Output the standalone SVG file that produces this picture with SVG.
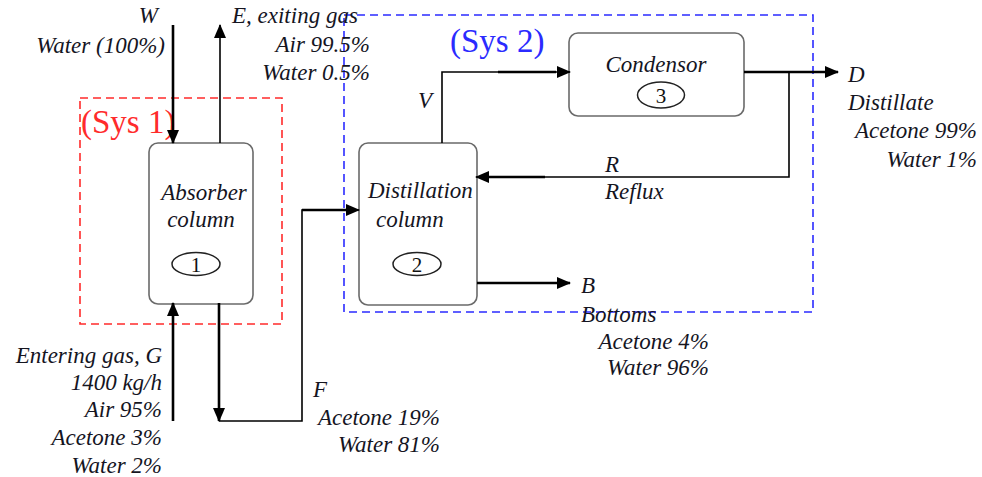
<svg xmlns="http://www.w3.org/2000/svg" width="982" height="477" viewBox="0 0 982 477">
<style>
.t{font-family:'Liberation Serif','DejaVu Serif',serif;font-style:italic;font-size:23px;fill:#15151f}
.e{text-anchor:end}
.m{text-anchor:middle}
.num{font-family:'Liberation Serif','DejaVu Serif',serif;font-size:21px;fill:#111;text-anchor:middle}
.box{fill:#fff;stroke:#6a6a6a;stroke-width:1.6}
.ell{fill:none;stroke:#222;stroke-width:1.5}
.ln{fill:none;stroke:#000;stroke-width:1.6}
.thk{fill:none;stroke:#000;stroke-width:2.6}
.sys{fill:none;stroke-width:1.6;stroke-dasharray:8 5}
.sysl{font-family:'Liberation Serif','DejaVu Serif',serif;font-size:33px}
</style>
<defs>
<marker id="ah" markerWidth="14" markerHeight="12" refX="13" refY="6" orient="auto" markerUnits="userSpaceOnUse">
<path d="M0,0 L14,6 L0,12 z" fill="#000"/>
</marker>
</defs>

<g id="sys1">
<rect class="sys" x="80" y="98" width="202" height="226" stroke="#ff2b2b"/>
<text class="sysl" x="81" y="133" fill="#ff2b2b" font-family="Liberation Serif, serif">(Sys 1)</text>
</g>
<g id="sys2">
<rect class="sys" x="344" y="15" width="469" height="297" stroke="#2b2bff"/>
<text class="sysl" x="450" y="52" fill="#2b2bff" font-family="Liberation Serif, serif">(Sys 2)</text>
</g>

<g id="absorber">
<rect class="box" x="149" y="143" width="104" height="161" rx="9"/>
<text class="t m" x="204" y="200">Absorber</text>
<text class="t m" x="201" y="227">column</text>
<ellipse class="ell" cx="196" cy="264" rx="24" ry="11.5"/>
<text class="num" x="196" y="272">1</text>
</g>

<g id="distillation">
<rect class="box" x="359" y="143" width="118" height="162" rx="9"/>
<text class="t" x="368" y="198">Distillation</text>
<text class="t" x="376" y="227">column</text>
<ellipse class="ell" cx="417" cy="264" rx="24" ry="11.5"/>
<text class="num" x="417" y="272">2</text>
</g>

<g id="condensor">
<rect class="box" x="569" y="33" width="175" height="83" rx="9"/>
<text class="t m" x="656" y="72">Condensor</text>
<ellipse class="ell" cx="661" cy="95" rx="23.5" ry="13"/>
<text class="num" x="661" y="103">3</text>
</g>

<g id="connectors">
<line class="thk" x1="173" y1="25" x2="173" y2="143" marker-end="url(#ah)"/>
<line class="ln" x1="220" y1="143" x2="220" y2="25" stroke-width="2" marker-end="url(#ah)"/>
<line class="thk" x1="173" y1="421" x2="173" y2="303" marker-end="url(#ah)"/>
<line class="thk" x1="219" y1="303" x2="219" y2="421" marker-end="url(#ah)"/>
<polyline class="ln" points="219,421 302,421 302,210 359,210" marker-end="url(#ah)"/>
<line class="thk" x1="302" y1="210" x2="346" y2="210"/>
<polyline class="ln" points="442,143 442,72 570,72" marker-end="url(#ah)"/>
<line class="thk" x1="498" y1="72" x2="556" y2="72"/>
<line class="thk" x1="744" y1="72" x2="838" y2="72" marker-end="url(#ah)"/>
<polyline class="ln" points="789,72 789,177 476,177" marker-end="url(#ah)"/>
<line class="thk" x1="545" y1="177" x2="488" y2="177"/>
<line class="thk" x1="477" y1="283" x2="570" y2="283" marker-end="url(#ah)"/>
</g>

<g id="labels">
<text class="t e" x="158" y="23">W</text>
<text class="t e" x="165" y="53">Water (100%)</text>
<text class="t" x="232" y="23">E, exiting gas</text>
<text class="t e" x="370" y="52">Air 99.5%</text>
<text class="t e" x="370" y="80">Water 0.5%</text>
<text class="t" x="418" y="108">V</text>
<text class="t" x="848" y="82">D</text>
<text class="t" x="848" y="110">Distillate</text>
<text class="t e" x="977" y="138">Acetone 99%</text>
<text class="t e" x="977" y="167">Water 1%</text>
<text class="t" x="605" y="172">R</text>
<text class="t" x="605" y="199">Reflux</text>
<text class="t" x="581" y="293">B</text>
<text class="t" x="581" y="322">Bottoms</text>
<text class="t e" x="709" y="349">Acetone 4%</text>
<text class="t e" x="709" y="375">Water 96%</text>
<text class="t" x="313" y="397">F</text>
<text class="t e" x="440" y="425">Acetone 19%</text>
<text class="t e" x="440" y="452">Water 81%</text>
<text class="t e" x="162" y="363">Entering gas, G</text>
<text class="t e" x="162" y="390">1400 kg/h</text>
<text class="t e" x="162" y="417">Air 95%</text>
<text class="t e" x="162" y="445">Acetone 3%</text>
<text class="t e" x="162" y="473">Water 2%</text>
</g>
</svg>
